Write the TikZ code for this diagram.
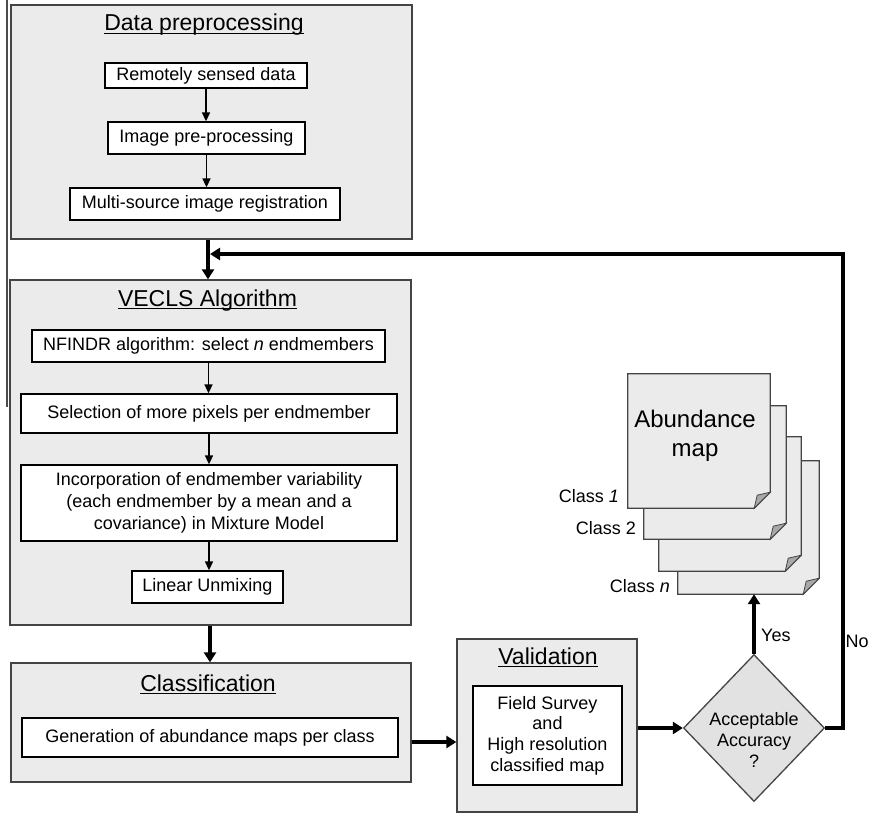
\documentclass[tikz,border=0pt]{standalone}
\usepackage{fontspec}
\setmainfont{Liberation Sans}
\usetikzlibrary{arrows.meta,shapes.geometric,calc}
\definecolor{boxgray}{HTML}{EBEBEB}
\definecolor{edgegray}{HTML}{444444}
\definecolor{foldgray}{HTML}{A8A8A8}
\definecolor{diagray}{HTML}{E2E2E2}
\newcommand\ultitle[1]{\setbox0\hbox{#1}\rlap{\rule[-3pt]{\wd0}{1.3pt}}\box0}
\begin{document}
\begin{tikzpicture}[x=1pt,y=-1pt,
  outerbox/.style={draw=edgegray, line width=1.3pt, fill=boxgray, inner sep=0pt},
  innerbox/.style={draw=black, line width=1.3pt, fill=white, inner sep=0pt, align=center, font=\fontsize{18}{22.3}\selectfont},
  titletext/.style={anchor=base, inner sep=0pt, font=\fontsize{23}{27}\selectfont},
  plaintext/.style={inner sep=0pt, font=\fontsize{18}{21}\selectfont},
  thinarrow/.style={-{Triangle[length=9pt,width=8pt]}, line width=1.6pt},
  thickarrow/.style={-{Triangle[length=10pt,width=12pt]}, line width=3.5pt},
  pagebox/.style={rectangle, inner sep=0pt},
  pageline/.style={draw=edgegray, line width=1.3pt, fill=boxgray},
  foldline/.style={draw=edgegray, line width=0.8pt, fill=foldgray},
  artline/.style={draw=black!70, line width=1.2pt}]
\useasboundingbox (0,0) rectangle (869,813);
\draw[artline] (7,0) -- (7,407);

% Data preprocessing
\node[outerbox, minimum width=401pt, minimum height=234pt] (data) at (211.5,122) {};
\node[titletext] (datat) at (204,31) {\ultitle{Data preprocessing}};
\node[innerbox, minimum width=202pt, minimum height=25pt] (rsd) at (206,75.5) {Remotely sensed data};
\node[innerbox, minimum width=197pt, minimum height=32pt] (ipp) at (206.5,138) {Image pre-processing};
\node[innerbox, minimum width=270pt, minimum height=32pt] (msr) at (205,204) {Multi-source image registration};
\draw[thinarrow] (rsd.south) -- (rsd.south |- ipp.north);
\draw[thinarrow] (ipp.south) -- (ipp.south |- msr.north);

% VECLS
\node[outerbox, minimum width=401pt, minimum height=345pt] (vecls) at (210.5,452.5) {};
\node[titletext] (vt) at (207.5,306) {\ultitle{VECLS Algorithm}};
\node[innerbox, minimum width=353pt, minimum height=32pt] (nf) at (208.5,346) {NFINDR algorithm: select \textit{n} endmembers};
\node[innerbox, minimum width=376pt, minimum height=39pt] (sel) at (209,413.5) {Selection of more pixels per endmember};
\node[innerbox, minimum width=376pt, minimum height=76pt] (inc) at (209,503) {Incorporation of endmember variability\\(each endmember by a mean and a\\covariance) in Mixture Model};
\node[innerbox, minimum width=151pt, minimum height=32pt] (lu) at (207.5,587) {Linear Unmixing};
\draw[thinarrow] (nf.south) -- (nf.south |- sel.north);
\draw[thinarrow] (sel.south) -- (sel.south |- inc.north);
\draw[thinarrow] (inc.south) -- (inc.south |- lu.north);

\draw[thickarrow] ([xshift=-3.5pt]data.south) -- ([xshift=-3.5pt]data.south |- vecls.north);

% Classification
\node[outerbox, minimum width=400pt, minimum height=119pt] (cls) at (211,722.5) {};
\node[titletext] (ct) at (208,691) {\ultitle{Classification}};
\node[innerbox, minimum width=376pt, minimum height=39pt] (gen) at (210,737.5) {Generation of abundance maps per class};
\draw[thickarrow] ([xshift=-0.5pt]vecls.south) -- ([xshift=-0.5pt]vecls.south |- cls.north);

% Validation
\node[outerbox, minimum width=180pt, minimum height=173pt] (val) at (547,725.5) {};
\node[titletext] (valt) at (548,664) {\ultitle{Validation}};
\node[innerbox, minimum width=149pt, minimum height=99pt, font=\fontsize{18}{20.7}\selectfont] (fs) at (547.5,735.5) {Field Survey\\and\\High resolution\\classified map};
\coordinate (cva) at ($(cls.east)+(0,19.5)$);
\draw[thickarrow] (cva) -- (cva -| val.west);

% Decision
\node[diamond, draw=edgegray, line width=1.3pt, fill=diagray, minimum width=141pt, minimum height=147pt, inner sep=0pt] (dia) at (754,728) {};
\node[plaintext, align=center] (diat) at (754,739.5) {Acceptable\\Accuracy\\?};
\draw[thickarrow] (val.east |- dia.west) -- (dia.west);

% Abundance map pages
\node[pagebox, minimum width=141pt, minimum height=133pt] (p4) at (748.5,527.5) {};
\node[pagebox, minimum width=142pt, minimum height=134pt] (p3) at (730,504) {};
\node[pagebox, minimum width=142pt, minimum height=133pt] (p2) at (715,472.5) {};
\node[pagebox, minimum width=142pt, minimum height=134pt] (p1) at (699,441) {};
\foreach \p in {p4,p3,p2,p1}{
  \filldraw[pageline] (\p.north west) -- (\p.north east) -- ($(\p.south east)+(0,-16)$) -- ($(\p.south east)+(-16,0)$) -- (\p.south west) -- cycle;
  \filldraw[foldline] ($(\p.south east)+(-16,0)$) -- ($(\p.south east)+(-13,-13)$) -- ($(\p.south east)+(0,-16)$) -- cycle;
}
\node[inner sep=0pt, align=center, font=\fontsize{24}{29}\selectfont] (abm) at (695,436) {Abundance\\map};
\node[plaintext, anchor=base east] (c1) at (619,502) {Class \textit{1}};
\node[plaintext, anchor=base east] (c2) at (636,534) {Class 2};
\node[plaintext, anchor=base east] (cn) at (670,592) {Class \textit{n}};

% Yes / No
\draw[thickarrow] (dia.north) -- (dia.north |- p4.south);
\node[plaintext, anchor=base west] (yes) at (761,641) {Yes};
\coordinate (fb) at (210,254);
\draw[thickarrow] (dia.east) -- ++(18,0) |- (fb);
\node[plaintext, anchor=base west] (no) at (845.5,647) {No};
\end{tikzpicture}
\end{document}
